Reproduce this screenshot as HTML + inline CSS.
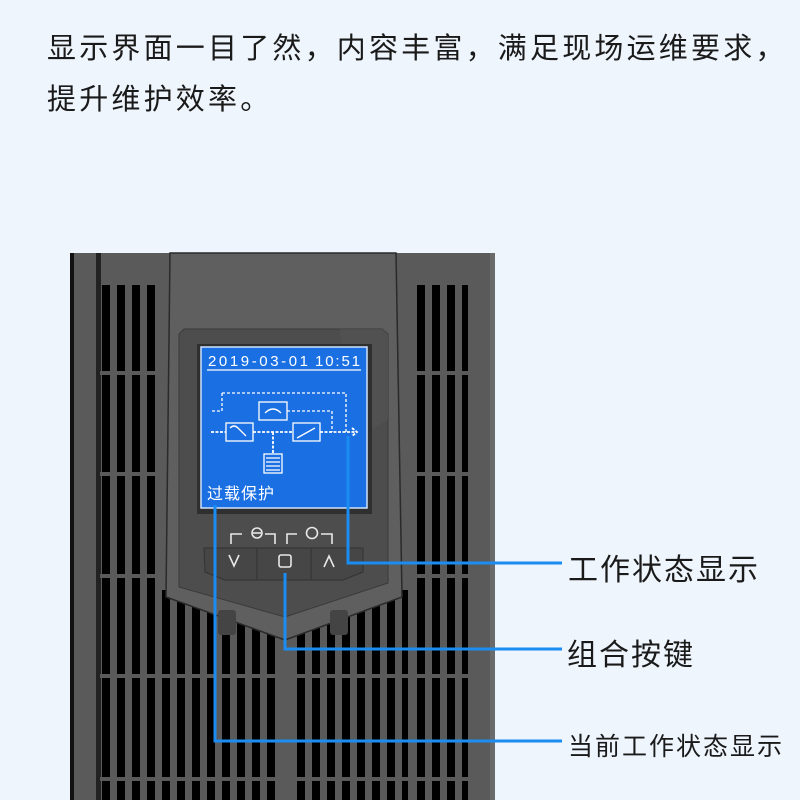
<!DOCTYPE html>
<html><head><meta charset="utf-8"><style>
html,body{margin:0;padding:0;background:#eef5fd;}
body{width:800px;height:800px;overflow:hidden;position:relative;font-family:"Liberation Sans","Noto Sans CJK SC",sans-serif;}
.t{position:absolute;left:47px;font-size:29px;letter-spacing:3.2px;color:#1a1a1a;white-space:nowrap;}
.l{position:absolute;color:#1a1a1a;white-space:nowrap;}
</style></head><body>
<div class="t" style="top:25px">显示界面一目了然，内容丰富，满足现场运维要求，</div>
<div class="t" style="top:76px">提升维护效率。</div>
<svg width="800" height="800" style="position:absolute;left:0;top:0">
<defs>
<pattern id="slot" x="102" y="0" width="15" height="800" patternUnits="userSpaceOnUse">
<rect x="0" y="0" width="8" height="800" fill="#000"/>
</pattern>
</defs>
<rect x="70" y="253" width="425" height="547" fill="#5a5a5a"/>
<rect x="70" y="253" width="4" height="547" fill="#111"/>
<rect x="96" y="253" width="5" height="547" fill="#222"/>
<rect x="490" y="253" width="5" height="547" fill="#6a6a6a"/>
<rect x="102" y="285" width="55" height="515" fill="url(#slot)"/>
<rect x="413" y="285" width="55" height="515" fill="url(#slot)"/>
<rect x="160" y="590" width="115" height="210" fill="url(#slot)"/>
<rect x="293" y="590" width="115" height="210" fill="url(#slot)"/>
<g fill="#5a5a5a">
<rect x="100" y="371" width="370" height="4"/>
<rect x="100" y="472" width="370" height="4"/>
<rect x="100" y="574" width="370" height="4"/>
<rect x="100" y="674" width="370" height="4"/>
<rect x="100" y="777" width="370" height="4"/>
<rect x="276" y="590" width="17" height="210"/>
</g>
<polygon points="170,253 396,253 402,597 285,640 166,597" fill="#5f5f5f" stroke="#2a2a2a" stroke-width="1.5"/>
<rect x="218" y="610" width="18" height="25" rx="3" fill="#444"/>
<rect x="330" y="610" width="18" height="25" rx="3" fill="#444"/>
<polygon points="179,334 184,329 382,329 388,334 388,583 285,617 179,587" fill="#4d4d4d" stroke="#3a3a3a"/>
<polygon points="340,329 382,329 388,334 388,420 350,440" fill="#555" opacity="0.6"/>
<rect x="197" y="344" width="175" height="170" fill="#2f2f2f"/>
<rect x="201" y="347" width="166" height="161" fill="#1a6fe2" stroke="#cfe3ff" stroke-width="1.5"/>
<text x="208" y="366" font-family="Liberation Sans" font-size="15" fill="#fff" textLength="100" lengthAdjust="spacing">2019-03-01</text>
<text x="315" y="366" font-family="Liberation Sans" font-size="15" fill="#fff" textLength="45" lengthAdjust="spacing">10:51</text>
<line x1="207" y1="370" x2="361" y2="370" stroke="#fff" stroke-width="1.2"/>
<g stroke="#fff" fill="none" stroke-width="1.3">
<path d="M222,393 H346 V432" stroke-dasharray="3,2"/>
<path d="M212,411 H222 V393" stroke-dasharray="3,2"/>
<path d="M287,411 H332 V432" stroke-dasharray="3,2"/>
<rect x="259" y="402" width="28" height="18"/>
<rect x="226" y="423" width="27" height="18"/>
<rect x="293" y="423" width="27" height="18"/>
<rect x="264" y="454" width="18" height="19"/>
<path d="M211,432 H226 M253,432 H293 M320,432 H356 M352,428 L357,432 L352,436 M273,432 V454" stroke-width="1.8" stroke-dasharray="3,1.5"/>
<path d="M230,428 q4,-4 8,0 l8,8 M297,438 l18,-10 M266,458 h14 M266,462 h14 M266,466 h14 M266,470 h14 M265,413 q8,-8 16,0"/>
</g>
<text x="207" y="499" font-family="Liberation Sans,Noto Sans CJK SC,sans-serif" font-size="16" fill="#fff" letter-spacing="1">过载保护</text>
<g stroke="#e8e8e8" fill="none" stroke-width="1.6">
<path d="M231,544 V534 H242"/><circle cx="257" cy="533" r="5"/><line x1="253" y1="533" x2="261" y2="533"/>
<path d="M265,534 H275 V544"/><path d="M287,544 V534 H297"/><circle cx="312" cy="533" r="5.5"/><path d="M321,534 H332 V544"/>
</g>
<path d="M204,548 H363 V572 L343,580 H225 L205,572 Z" fill="#464646" stroke="#333"/>
<line x1="257" y1="548" x2="257" y2="580" stroke="#333"/>
<line x1="311" y1="548" x2="311" y2="580" stroke="#333"/>
<g stroke="#e8e8e8" fill="none" stroke-width="1.6">
<path d="M229,555 L234,566 L239,555"/>
<rect x="279" y="555" width="12" height="12" rx="2"/>
<path d="M324,567 L329,556 L334,567"/>
</g>
<g stroke="#1a8cf2" stroke-width="3" fill="none">
<path d="M348,436 V563 H562"/>
<path d="M285,573 V649 H562"/>
<path d="M215,505 V741 H562"/>
</g>
</svg>
<div class="l" style="left:568px;top:545px;font-size:30px;letter-spacing:2px">工作状态显示</div>
<div class="l" style="left:567px;top:630px;font-size:30px;letter-spacing:2px">组合按键</div>
<div class="l" style="left:568px;top:727px;font-size:25px;letter-spacing:2px">当前工作状态显示</div>
</body></html>
